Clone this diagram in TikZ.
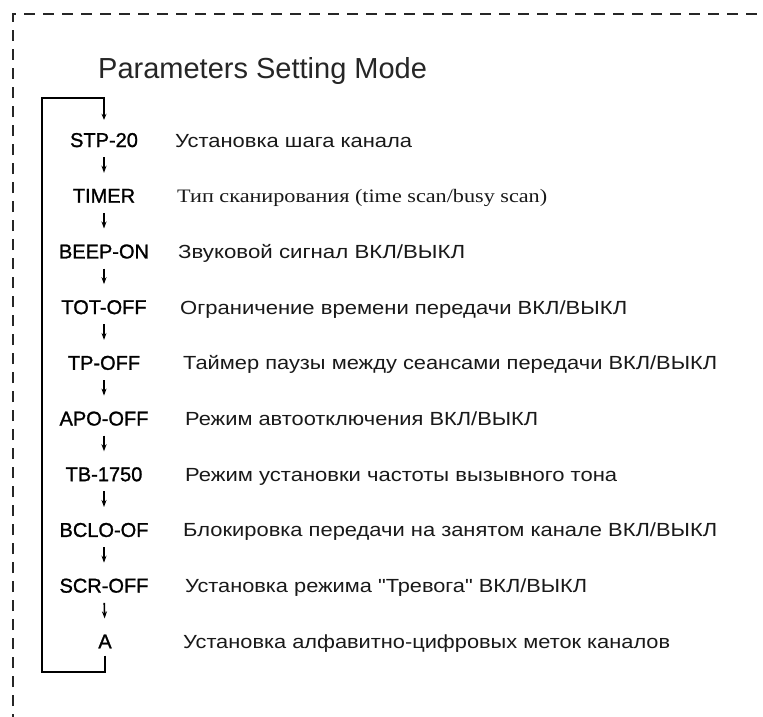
\documentclass[tikz,border=0pt]{standalone}
\usepackage{fontspec}
\usepackage{graphicx}
\setmainfont{Liberation Sans}
\newfontfamily\descfont{Liberation Sans}
\newfontfamily\serifrm{Liberation Serif}
\newfontfamily\labfont[FakeBold=1.2]{Liberation Sans}
\usetikzlibrary{arrows.meta}
\newcommand\fitw[2]{\resizebox{#1pt}{\height}{#2}}
\tikzset{
  lab/.style={anchor=base, inner sep=0pt, text height=15pt, text depth=0pt,
    font=\labfont\fontsize{20}{20}\selectfont, text=black},
  desc/.style={anchor=base west, inner sep=0pt, font=\descfont\fontsize{19}{19}\selectfont, text=black!90},
  arr/.style={line width=1.6pt, -{Stealth[length=7pt,width=5pt]}, shorten <=10pt, shorten >=14.7pt},
  loopline/.style={line width=2.2pt, -{Stealth[length=6pt,width=5pt]}, shorten <=7pt, shorten >=12pt},
  frame/.style={line width=1.8pt, dash pattern=on 11pt off 8pt, black!85}
}
\begin{document}
\begin{tikzpicture}[x=1pt,y=-1pt]
\path[fill=white] (0,0) rectangle (763,717);
\useasboundingbox (0,0) rectangle (763,717);
% dashed frame (top and left sides)
\coordinate (fc) at (13,14);
\coordinate (fr) at (770,14);
\coordinate (fb) at (13,725);
\draw[frame] (fb) -- (fc) -- (fr);
% title
\node[anchor=base west, inner sep=0pt, font=\fontsize{29}{29}\selectfont, text=black!85] (title) at (98,78) {Parameters Setting Mode};
% labels
\node[lab] (l1) at (104,147) {STP-20};
\node[lab] (l2) at (104,202.7) {TIMER};
\node[lab] (l3) at (104,258.4) {BEEP-ON};
\node[lab] (l4) at (104,314.1) {TOT-OFF};
\node[lab] (l5) at (104,369.8) {TP-OFF};
\node[lab] (l6) at (104,425.5) {APO-OFF};
\node[lab] (l7) at (104,481.2) {TB-1750};
\node[lab] (l8) at (104,536.9) {BCLO-OF};
\node[lab] (l9) at (104,592.6) {SCR-OFF};
\node[lab] (l10) at (105,648.3) {A};
% descriptions
\node[desc] (d1) at (175,147) {\fitw{237}{Установка шага канала}};
\node[desc, font=\serifrm\fontsize{19}{19}\selectfont] (d2) at (177,202.7) {\fitw{370}{Тип сканирования (time scan/busy scan)}};
\node[desc] (d3) at (178,258.4) {\fitw{287}{Звуковой сигнал ВКЛ/ВЫКЛ}};
\node[desc] (d4) at (180,314.1) {\fitw{447}{Ограничение времени передачи ВКЛ/ВЫКЛ}};
\node[desc] (d5) at (183,369.8) {\fitw{534}{Таймер паузы между сеансами передачи ВКЛ/ВЫКЛ}};
\node[desc] (d6) at (185,425.5) {\fitw{353}{Режим автоотключения ВКЛ/ВЫКЛ}};
\node[desc] (d7) at (185,481.2) {\fitw{432}{Режим установки частоты вызывного тона}};
\node[desc] (d8) at (183,536.9) {\fitw{534}{Блокировка передачи на занятом канале ВКЛ/ВЫКЛ}};
\node[desc] (d9) at (185,592.6) {\fitw{402}{Установка режима "Тревога" ВКЛ/ВЫКЛ}};
\node[desc] (d10) at (183,648.3) {\fitw{487}{Установка алфавитно-цифровых меток каналов}};
% arrows
\foreach \a/\b in {l1/l2,l2/l3,l3/l4,l4/l5,l5/l6,l6/l7,l7/l8,l8/l9,l9/l10}
  \draw[arr] (\a.south) -- (\b.north);
% loop back
\coordinate (bl) at (42,672);
\coordinate (tl) at (42,98);
\draw[loopline] (l10.south) -- (l10.south |- bl) -- (bl) -- (tl) -- (tl -| l1.north) -- (l1.north);
\end{tikzpicture}
\end{document}
